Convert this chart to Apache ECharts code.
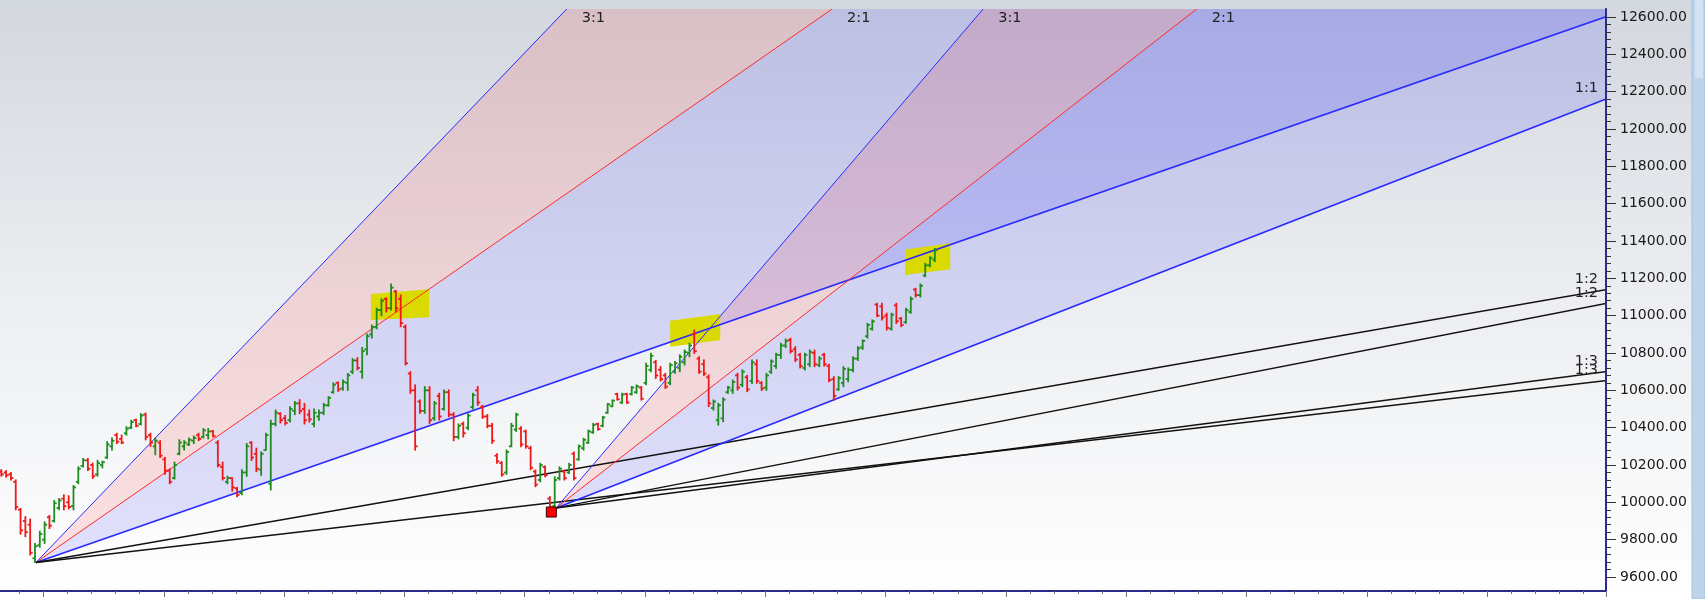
<!DOCTYPE html>
<html><head><meta charset="utf-8">
<script src="https://cdn.jsdelivr.net/npm/echarts@6/dist/echarts.min.js"></script>
<style>html,body{margin:0;padding:0;background:#fff}#c{width:1705px;height:599px}</style>
</head><body><div id="c"></div>
<script>
// ---------- DATA (bar index 0..194) ----------
const opens = [
10165,10160,10150,10110,9960,9900,9880,9700,9770,9800,
9920,9900,9970,10020,10000,9980,10110,10195,10225,10200,
10150,10200,10240,10300,10360,10340,10370,10400,10440,10420,
10470,10360,10300,10320,10230,10170,10130,10260,10300,10310,
10330,10360,10350,10360,10380,10320,10190,10110,10130,10075,
10050,10160,10320,10260,10175,10280,10100,10420,10475,10450,
10440,10490,10530,10500,10470,10420,10460,10480,10520,10590,
10640,10610,10640,10700,10760,10700,10820,10900,10940,11030,
11090,11040,11130,11090,10940,10690,10600,10540,10490,10600,
10450,10570,10500,10590,10470,10350,10420,10400,10510,10600,
10510,10460,10410,10250,10210,10160,10300,10390,10395,10380,
10290,10165,10120,10190,10020,9980,10130,10165,10160,10260,
10230,10290,10320,10375,10420,10410,10480,10515,10580,10535,
10580,10580,10590,10615,10640,10710,10750,10710,10680,10640,
10700,10720,10750,10800,10900,10770,10740,10670,10505,10440,
10450,10590,10600,10680,10630,10670,10650,10740,10640,10615,
10700,10730,10790,10840,10870,10820,10790,10720,10740,10800,
10735,10790,10730,10660,10605,10640,10660,10710,10770,10830,
10890,10930,11060,11050,11000,10930,11055,10985,10965,11020,
11140,11110,11215,11270,11300];
const highs = [
10175,10170,10160,10120,9967,9923,9910,9780,9845,9895,
9930,10010,10020,10040,10035,10090,10190,10235,10235,10210,
10225,10220,10325,10345,10370,10360,10405,10440,10445,10475,
10478,10370,10345,10330,10240,10180,10215,10335,10330,10345,
10355,10370,10395,10395,10385,10330,10215,10140,10130,10080,
10175,10315,10325,10290,10270,10370,10440,10495,10480,10465,
10512,10540,10550,10530,10495,10500,10495,10530,10566,10640,
10645,10655,10690,10770,10775,10830,10900,10950,11040,11090,
11095,11170,11135,11111,10950,10700,10629,10548,10620,10620,
10540,10584,10602,10602,10480,10420,10430,10475,10584,10620,
10520,10470,10423,10260,10218,10280,10423,10477,10405,10387,
10300,10173,10209,10195,10030,10137,10190,10173,10209,10270,
10307,10343,10387,10423,10423,10460,10530,10548,10584,10584,
10584,10620,10628,10620,10745,10798,10760,10727,10691,10745,
10754,10790,10816,10852,10923,10780,10763,10682,10548,10530,
10560,10620,10655,10691,10709,10680,10763,10763,10646,10691,
10763,10798,10852,10875,10879,10834,10798,10798,10816,10816,
10780,10798,10740,10673,10673,10727,10720,10780,10834,10870,
10959,10977,11066,11066,11013,11013,11066,10990,11040,11100,
11146,11170,11280,11316,11360];
const lows = [
10140,10135,10120,9960,9830,9816,9718,9678,9760,9780,
9860,9895,9960,9960,9965,9960,10100,10190,10170,10128,
10140,10185,10235,10280,10315,10315,10360,10395,10405,10415,
10335,10300,10255,10240,10150,10100,10125,10255,10280,10305,
10315,10330,10345,10340,10350,10190,10120,10100,10060,10030,
10040,10140,10225,10165,10145,10280,10066,10410,10425,10415,
10430,10470,10475,10420,10430,10405,10440,10470,10515,10585,
10595,10600,10600,10690,10710,10665,10790,10880,10930,11000,
11020,11030,11020,10941,10736,10584,10280,10477,10477,10423,
10440,10441,10495,10459,10330,10340,10350,10390,10500,10520,
10450,10400,10316,10210,10140,10150,10298,10380,10298,10290,
10175,10084,10110,10137,9955,9968,10120,10120,10155,10120,
10226,10280,10316,10370,10387,10405,10477,10512,10548,10530,
10530,10575,10584,10548,10630,10700,10664,10650,10610,10630,
10691,10700,10736,10780,10798,10691,10680,10513,10494,10414,
10432,10584,10584,10602,10620,10593,10637,10638,10600,10600,
10690,10718,10771,10830,10800,10754,10720,10709,10727,10727,
10727,10730,10646,10548,10600,10620,10646,10700,10760,10820,
10880,10923,10995,10977,10923,10923,10959,10941,10959,11013,
11100,11100,11209,11262,11290];
const closes = [
10150,10145,10130,9975,9850,9840,9730,9765,9830,9880,
9875,9995,10010,9980,9975,10080,10180,10225,10180,10140,
10210,10215,10310,10330,10325,10320,10395,10430,10410,10465,
10350,10320,10330,10250,10170,10110,10200,10320,10320,10335,
10345,10340,10385,10380,10355,10200,10130,10130,10080,10040,
10160,10300,10240,10180,10260,10360,10420,10480,10440,10425,
10500,10530,10490,10440,10445,10480,10480,10520,10560,10630,
10605,10645,10680,10760,10720,10810,10890,10940,11030,11080,
11040,11150,11040,10960,10745,10600,10300,10490,10600,10440,
10530,10460,10590,10470,10350,10410,10370,10465,10575,10535,
10460,10410,10330,10220,10150,10270,10410,10470,10310,10300,
10185,10095,10200,10145,9975,10120,10180,10130,10200,10130,
10300,10335,10380,10415,10392,10455,10525,10545,10552,10578,
10535,10615,10622,10555,10730,10785,10680,10660,10620,10735,
10745,10780,10805,10840,10810,10700,10690,10530,10540,10520,
10550,10615,10645,10615,10700,10605,10750,10650,10610,10680,
10755,10790,10840,10865,10810,10765,10730,10790,10805,10740,
10770,10740,10655,10570,10665,10715,10710,10770,10825,10865,
10950,10970,11000,10990,10935,11005,10970,10950,11030,11090,
11110,11160,11270,11310,11350];

// Gann fans: origin (bar, price) and price-per-bar of the 1:1 line
const fanOriginBar = [7.2, 115.3];
const fanOriginPrice = [9678, 9970];
const fanUnit = [8.96, 10.04];
const fanRatios = [3, 2, 1, 1/2, 1/3];
const fanRatioLabels = ['3:1', '2:1', '1:1', '1:2', '1:3'];

// highlighted zones: [barLeft, barRight, priceTopLeft, priceTopRight, priceBottomLeft, priceBottomRight]
const highlightZones = [
  [76.8, 88.9, 11116, 11141, 10977, 10991],
  [139.0, 149.4, 10973, 11009, 10834, 10870],
  [187.8, 197.2, 11355, 11388, 11218, 11248]
];
// pivot marker
const pivotBar = [114.3];
const pivotPrice = [9948];

// axis settings
const priceMinShown = 9525, priceMaxShown = 12642.86;
const priceTickMin = 9600, priceTickMax = 12600, priceTickStep = 200;
const X_SHIFT = 16.23;      // axis value of bar 0 (tick phase)
const X_MAX = 349.7;
const X_STEP = 25;

// ---------- CHART ----------
const ax = b => b + X_SHIFT;
const FAR = 1500;
const lineColors = ['#2a2aff', '#ff2a2a', '#2a2aff', '#111111', '#111111'];
const lineWidths = [1, 1, 1.7, 1.4, 1.4];
const fillRegions = [[0,0,1,0],[0,1,2,1],[1,0,1,0],[1,1,2,1]];
const fillColors = ['rgba(255,0,0,0.11)', 'rgba(0,0,255,0.11)'];
const fanLines = [];
for (let f = 0; f < fanOriginBar.length; f++) for (let r = 0; r < fanRatios.length; r++) fanLines.push([f, r]);
function fanPt(f, r, bar) {
  return [ax(bar), fanOriginPrice[f] + fanRatios[r] * fanUnit[f] * (bar - fanOriginBar[f])];
}
const barData = opens.map((o, i) => [ax(i), o, highs[i], lows[i], closes[i]]);

const chart = echarts.init(document.getElementById('c'), null, {renderer: 'canvas'});
const FONT = 'DejaVu Sans';

const option = {
  animation: false,
  graphic: [
    {type: 'rect', z: -100, silent: true, shape: {x: 0, y: 0, width: 1705, height: 599},
     style: {fill: {type: 'linear', x: 0, y: 0, x2: 0, y2: 1, colorStops: [
       {offset: 0, color: '#d3d7de'}, {offset: 0.5, color: '#eceef1'}, {offset: 1, color: '#ffffff'}]}}},
    {type: 'rect', z: -90, silent: true, shape: {x: 1692, y: 0, width: 13, height: 599},
     style: {fill: '#bcd3ea', stroke: '#a6bfda', lineWidth: 1}},
    {type: 'rect', z: -89, silent: true, shape: {x: 1695, y: 0, width: 8, height: 78},
     style: {fill: '#d3e3f3'}}
  ],
  grid: [
    {left: -76.8, right: 99, top: 9, bottom: 8, containLabel: false, outerBoundsMode: 'none'},
    {left: 0, right: 99, top: 17, bottom: 22, containLabel: false, outerBoundsMode: 'none'}
  ],
  xAxis: [
    {gridIndex: 0, type: 'value', min: 0, max: X_MAX, interval: X_STEP, z: 10,
     axisLine: {show: true, onZero: false, lineStyle: {color: '#2b2b8e', width: 2}},
     axisTick: {show: true, length: 6, lineStyle: {color: '#707070'}},
     minorTick: {show: true, splitNumber: 5, length: 3, lineStyle: {color: '#707070'}},
     axisLabel: {show: false}, splitLine: {show: false}},
    {gridIndex: 1, type: 'value', min: 0, max: 100, show: false}
  ],
  yAxis: [
    {gridIndex: 0, type: 'value', min: priceMinShown, max: priceMaxShown, position: 'right', z: 10,
     axisLine: {show: true, onZero: false, lineStyle: {color: '#2b2b8e', width: 2}},
     axisTick: {show: false}, axisLabel: {show: false}, splitLine: {show: false}},
    {gridIndex: 1, type: 'value', min: priceTickMin, max: priceTickMax, interval: priceTickStep, position: 'right', z: 10,
     axisLine: {show: false, onZero: false},
     axisTick: {show: true, length: 10, lineStyle: {color: '#333'}},
     minorTick: {show: true, splitNumber: 5, length: 5, lineStyle: {color: '#333'}},
     axisLabel: {margin: 14, color: '#1a1a1a', fontFamily: FONT, fontSize: 14,
                 formatter: v => v.toFixed(2)},
     splitLine: {show: false}}
  ],
  series: [
    { // fan fills
      type: 'custom', xAxisIndex: 0, yAxisIndex: 0, clip: true, z: 1, silent: true,
      data: fillRegions,
      renderItem: (params, api) => {
        const f = api.value(0), r1 = api.value(1), r2 = api.value(2), c = api.value(3);
        const o = api.coord([ax(fanOriginBar[f]), fanOriginPrice[f]]);
        const p1 = api.coord(fanPt(f, r1, fanOriginBar[f] + FAR));
        const p2 = api.coord(fanPt(f, r2, fanOriginBar[f] + FAR));
        return {type: 'polygon', shape: {points: [o, p1, p2]}, style: {fill: fillColors[c]}};
      }
    },
    { // highlight zones
      type: 'custom', xAxisIndex: 0, yAxisIndex: 0, clip: true, z: 2, silent: true,
      data: highlightZones,
      renderItem: (params, api) => {
        const bl = api.value(0), br = api.value(1);
        const pts = [
          api.coord([ax(bl), api.value(2)]), api.coord([ax(br), api.value(3)]),
          api.coord([ax(br), api.value(5)]), api.coord([ax(bl), api.value(4)])];
        return {type: 'polygon', shape: {points: pts}, style: {fill: '#dada00'}};
      }
    },
    { // fan lines
      type: 'custom', xAxisIndex: 0, yAxisIndex: 0, clip: true, z: 3, silent: true,
      data: fanLines,
      renderItem: (params, api) => {
        const f = api.value(0), r = api.value(1);
        const o = api.coord([ax(fanOriginBar[f]), fanOriginPrice[f]]);
        const p = api.coord(fanPt(f, r, fanOriginBar[f] + FAR));
        return {type: 'line', shape: {x1: o[0], y1: o[1], x2: p[0], y2: p[1]},
                style: {stroke: lineColors[r], lineWidth: lineWidths[r]}};
      }
    },
    { // OHLC bars
      type: 'custom', xAxisIndex: 0, yAxisIndex: 0, clip: true, z: 4, silent: true,
      data: barData,
      renderItem: (params, api) => {
        const x = api.value(0), o = api.value(1), h = api.value(2), l = api.value(3), c = api.value(4);
        const ph = api.coord([x, h]), pl = api.coord([x, l]);
        const po = api.coord([x, o]), pc = api.coord([x, c]);
        const col = c >= o ? '#1e8c1e' : '#f01818';
        const st = {stroke: col, lineWidth: 1.8};
        return {type: 'group', children: [
          {type: 'line', shape: {x1: ph[0], y1: ph[1] - 0.5, x2: pl[0], y2: pl[1] + 0.5}, style: st},
          {type: 'line', shape: {x1: po[0] - 2.5, y1: po[1], x2: po[0], y2: po[1]}, style: st},
          {type: 'line', shape: {x1: pc[0], y1: pc[1], x2: pc[0] + 2.5, y2: pc[1]}, style: st}
        ]};
      }
    },
    { // pivot marker
      type: 'scatter', xAxisIndex: 0, yAxisIndex: 0, z: 6, silent: true,
      symbol: 'rect', symbolSize: 10,
      itemStyle: {color: '#ff0000', borderColor: '#3a0000', borderWidth: 1, opacity: 1},
      data: pivotBar.map((b, i) => [ax(b), pivotPrice[i]])
    },
    { // fan labels
      type: 'custom', xAxisIndex: 0, yAxisIndex: 0, clip: true, z: 7, silent: true,
      data: fanLines,
      renderItem: (params, api) => {
        const f = api.value(0), r = api.value(1);
        const cs = params.coordSys;
        const top = cs.y, right = cs.x + cs.width;
        const o = api.coord([ax(fanOriginBar[f]), fanOriginPrice[f]]);
        const p = api.coord(fanPt(f, r, fanOriginBar[f] + FAR));
        const t = (top - o[1]) / (p[1] - o[1]);
        const xTop = o[0] + t * (p[0] - o[0]);
        let tx, ty, align;
        if (xTop <= right) { tx = xTop + 15; ty = top + 9.5; align = 'left'; }
        else {
          const yr = o[1] + (right - o[0]) / (p[0] - o[0]) * (p[1] - o[1]);
          tx = right - 8; ty = yr - 10.5; align = 'right';
          if (ty < top + 6) return null;
        }
        return {type: 'text', x: tx, y: ty,
                style: {text: fanRatioLabels[r], fill: '#222222', font: '14.5px "' + FONT + '"',
                        align: align, verticalAlign: 'middle'}};
      }
    }
  ]
};
chart.setOption(option);
</script>
</body></html>
